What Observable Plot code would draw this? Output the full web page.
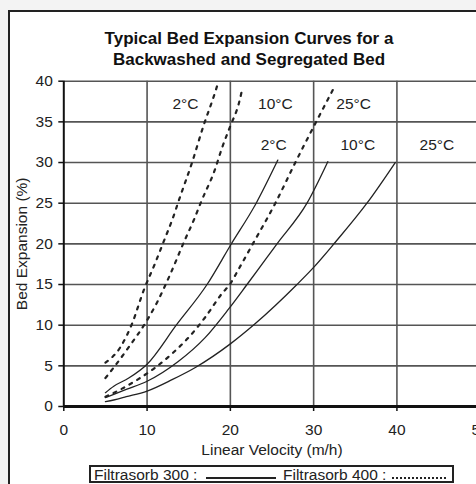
<!DOCTYPE html>
<html><head><meta charset="utf-8">
<script src="https://cdn.jsdelivr.net/npm/d3@7"></script>
<script src="https://cdn.jsdelivr.net/npm/@observablehq/plot@0.6"></script>
<style>
html,body{margin:0;padding:0;width:476px;height:484px;overflow:hidden;background:#f3f3f3;font-family:"Liberation Sans",Arial,sans-serif;}
#frame{position:absolute;left:8px;top:10px;width:540px;height:540px;border:2px solid #222;background:#fff;}
#title{position:absolute;left:0;top:28px;width:498px;text-align:center;font-weight:bold;font-size:17px;line-height:21px;color:#111;}
#chart{position:absolute;left:0;top:72px;width:500px;height:392px;}
#chart svg{max-width:none !important;}
#legend{position:absolute;left:89px;top:465px;width:365px;height:18px;box-sizing:border-box;border:2px solid #222;background:#fff;}
#legend .lt{position:absolute;top:0px;font-size:15.5px;line-height:15.5px;color:#222;white-space:nowrap;}
#legend .ln{position:absolute;top:10px;height:1.5px;}
</style></head><body>
<div id="frame"></div>
<div id="title">Typical Bed Expansion Curves for a<br>Backwashed and Segregated Bed</div>
<div id="chart"></div>
<div id="legend">
  <span class="lt" style="left:3px">Filtrasorb 300 :</span>
  <span class="ln" style="left:115px;width:70px;background:#222"></span>
  <span class="lt" style="left:192px">Filtrasorb 400 :</span>
  <span class="ln" style="left:301px;width:56px;background:repeating-linear-gradient(to right,#222 0 2px,transparent 2px 4px)"></span>
</div>
<script>
// tick values
const xTicks = [0, 10, 20, 30, 40, 50];
const yTicks = [0, 5, 10, 15, 20, 25, 30, 35, 40];
const xLabel = "Linear Velocity (m/h)";
const yLabel = "Bed Expansion (%)";

// Filtrasorb 300 (solid) : [velocity m/h, expansion %]
const f300_2C  = [[5,1.7],[6,2.5],[7.8,3.5],[10,5.2],[13.5,10],[17.2,15],[20,19.8],[23.1,25],[25.7,30.3]];
const f300_10C = [[5,1.1],[6,1.5],[7.5,2.1],[10,3.1],[13.7,5.5],[17,8.5],[19.8,12],[22,15],[25.6,20],[29.2,25],[31.7,30.1]];
const f300_25C = [[5,0.6],[6,0.8],[7.5,1.2],[10,1.9],[13,3.3],[15.8,4.8],[20,7.7],[23,10.2],[28,15],[30,17.1],[32.6,20.2],[36.4,25],[39.8,30]];

// Filtrasorb 400 (dashed)
const f400_2C  = [[5,5.4],[6.8,7.3],[8.2,10.2],[9.6,14.3],[11,17.7],[12,20.3],[13,22.9],[14,25.9],[15.4,30],[16.8,34.6],[17.9,37.8],[18.5,39.7]];
const f400_10C = [[5,3.5],[6,4.8],[7.8,7.3],[10,10.6],[11.2,12.8],[12.8,16.3],[14.5,20.4],[15.6,22.9],[16.5,25.2],[18.1,29],[19,31.8],[20,34.5],[21,37.2],[21.4,38.9]];
const f400_25C = [[5,1.2],[7,2.2],[9,3.4],[11,4.8],[13,6.5],[15,8.5],[17,11],[19,13.9],[20,15.1],[21,16.9],[22.7,20],[25.4,25],[27.8,30],[30.3,35],[32.6,39.5]];

// curve labels
const labelText = ["2°C", "10°C", "25°C", "2°C", "10°C", "25°C"];
const labelV    = [14.6, 25.4, 34.8, 25.2, 35.3, 44.8];
const labelE    = [37.2, 37.2, 37.2, 32.1, 32.1, 32.1];

function rows(arr, series) { return arr.map(([v, e]) => ({v, e, series})); }
const solidRows = [...rows(f300_2C, "2"), ...rows(f300_10C, "10"), ...rows(f300_25C, "25")];
const dashRows  = [...rows(f400_2C, "2"), ...rows(f400_10C, "10"), ...rows(f400_25C, "25")];
const labels = labelText.map((t, i) => ({t, v: labelV[i], e: labelE[i]}));

const chart = Plot.plot({
  width: 500, height: 392,
  marginTop: 8.7, marginRight: 20.3, marginBottom: 58, marginLeft: 63.3,
  x: {domain: [0, 50]},
  y: {domain: [0, 40]},
  style: {fontFamily: "'Liberation Sans', Arial, sans-serif", fontSize: "15.5px", color: "#222", background: "transparent", overflow: "visible", maxWidth: "none"},
  marks: [
    Plot.gridX(xTicks.slice(1), {stroke: "#555", strokeOpacity: 1, strokeWidth: 1.6}),
    Plot.gridY(yTicks.slice(1), {stroke: "#555", strokeOpacity: 1, strokeWidth: 1.6}),
    Plot.line(solidRows, {x: "v", y: "e", z: "series", stroke: "#222", strokeWidth: 1.3, curve: "monotone-x"}),
    Plot.line(dashRows, {x: "v", y: "e", z: "series", stroke: "#222", strokeWidth: 2.2, strokeDasharray: "3,6", curve: "monotone-x"}),
    Plot.ruleX([0], {stroke: "#111", strokeWidth: 2}),
    Plot.ruleY([0], {stroke: "#111", strokeWidth: 3}),
    Plot.axisX(xTicks, {tickSize: 5, tickPadding: 12, stroke: "#111", strokeWidth: 1.5, label: xLabel, labelAnchor: "center", labelArrow: "none", labelOffset: 48}),
    Plot.axisY(yTicks, {tickSize: 5, tickPadding: 6, stroke: "#111", strokeWidth: 1.5, label: yLabel, labelAnchor: "center", labelArrow: "none", labelOffset: 48}),
    Plot.text(labels, {x: "v", y: "e", text: "t", fill: "#222", fontSize: 15.5})
  ]
});
chart.style.maxWidth = "none";
document.getElementById("chart").appendChild(chart);
</script>
</body></html>
